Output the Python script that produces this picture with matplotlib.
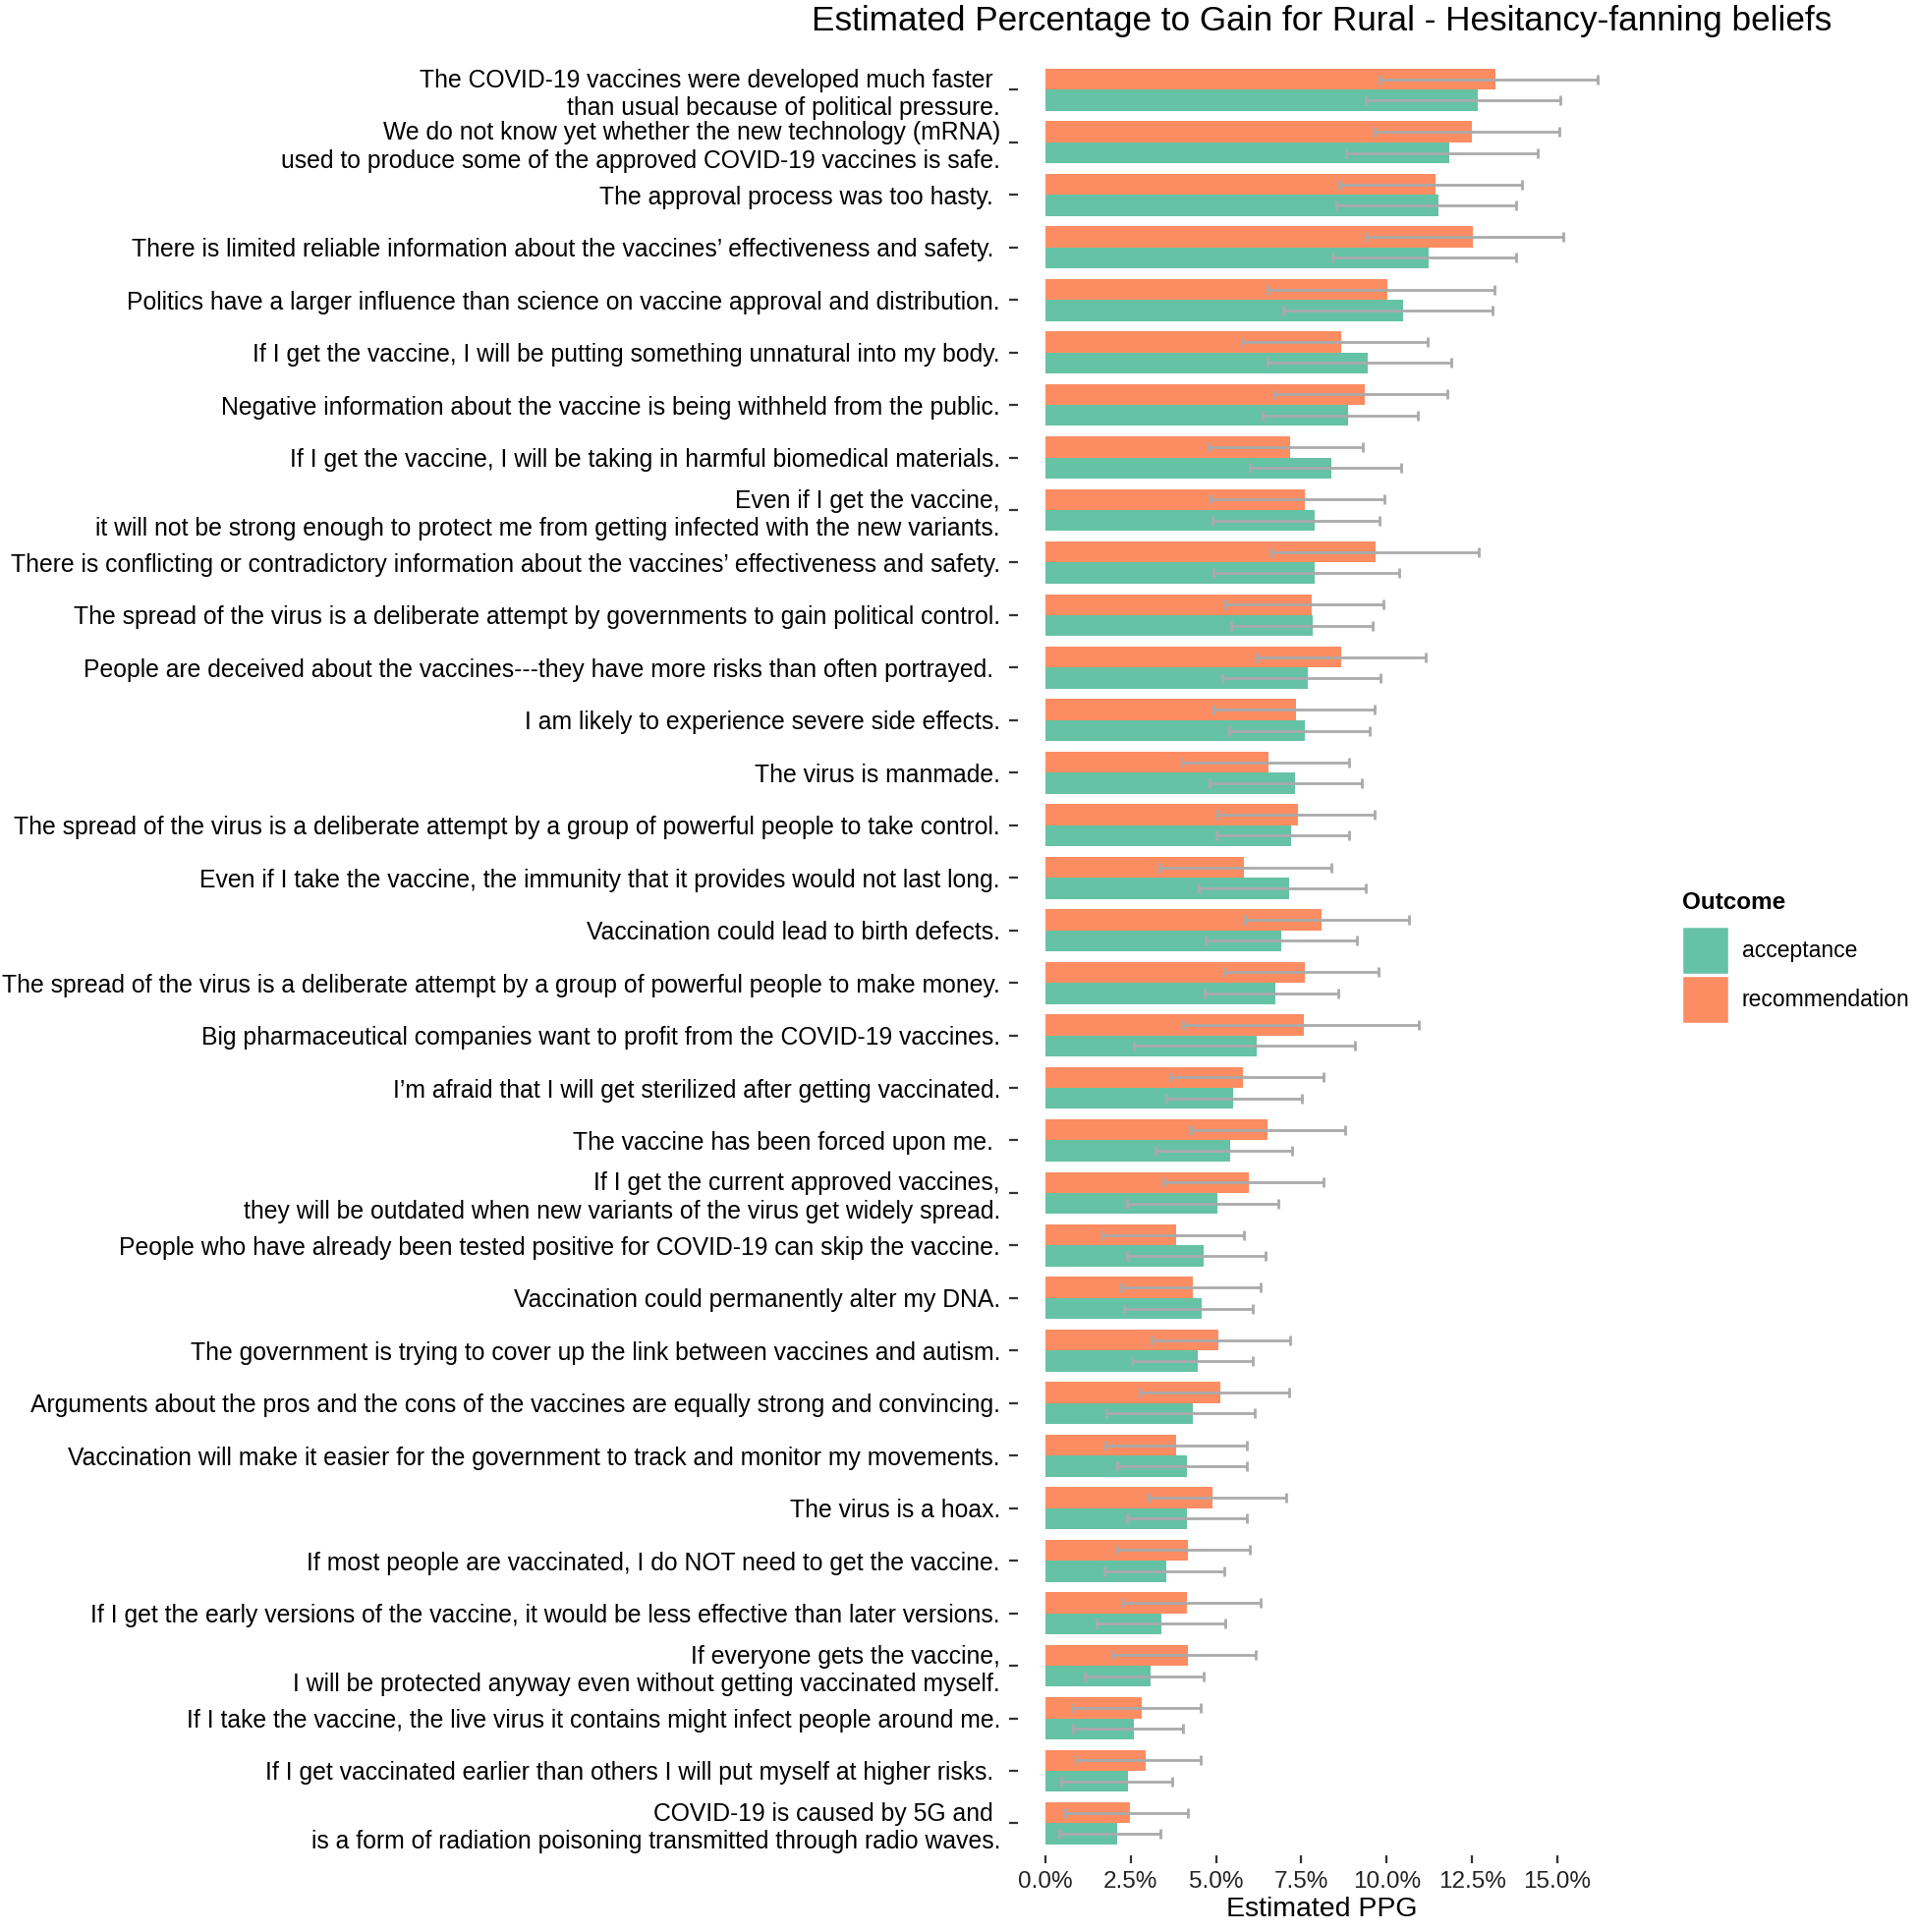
import matplotlib
matplotlib.use("Agg")
import matplotlib.pyplot as plt
from matplotlib.patches import Rectangle
import numpy as np

plt.rcParams['font.family'] = ['Liberation Sans', 'DejaVu Sans']

labels = [
    "The COVID-19 vaccines were developed much faster \nthan usual because of political pressure.",
    "We do not know yet whether the new technology (mRNA)\nused to produce some of the approved COVID-19 vaccines is safe.",
    "The approval process was too hasty. ",
    "There is limited reliable information about the vaccines\u2019 effectiveness and safety. ",
    "Politics have a larger influence than science on vaccine approval and distribution.",
    "If I get the vaccine, I will be putting something unnatural into my body.",
    "Negative information about the vaccine is being withheld from the public.",
    "If I get the vaccine, I will be taking in harmful biomedical materials.",
    "Even if I get the vaccine,\nit will not be strong enough to protect me from getting infected with the new variants.",
    "There is conflicting or contradictory information about the vaccines\u2019 effectiveness and safety.",
    "The spread of the virus is a deliberate attempt by governments to gain political control.",
    "People are deceived about the vaccines---they have more risks than often portrayed. ",
    "I am likely to experience severe side effects.",
    "The virus is manmade.",
    "The spread of the virus is a deliberate attempt by a group of powerful people to take control.",
    "Even if I take the vaccine, the immunity that it provides would not last long.",
    "Vaccination could lead to birth defects.",
    "The spread of the virus is a deliberate attempt by a group of powerful people to make money.",
    "Big pharmaceutical companies want to profit from the COVID-19 vaccines.",
    "I\u2019m afraid that I will get sterilized after getting vaccinated.",
    "The vaccine has been forced upon me. ",
    "If I get the current approved vaccines,\nthey will be outdated when new variants of the virus get widely spread.",
    "People who have already been tested positive for COVID-19 can skip the vaccine.",
    "Vaccination could permanently alter my DNA.",
    "The government is trying to cover up the link between vaccines and autism.",
    "Arguments about the pros and the cons of the vaccines are equally strong and convincing.",
    "Vaccination will make it easier for the government to track and monitor my movements.",
    "The virus is a hoax.",
    "If most people are vaccinated, I do NOT need to get the vaccine.",
    "If I get the early versions of the vaccine, it would be less effective than later versions.",
    "If everyone gets the vaccine,\nI will be protected anyway even without getting vaccinated myself.",
    "If I take the vaccine, the live virus it contains might infect people around me.",
    "If I get vaccinated earlier than others I will put myself at higher risks. ",
    "COVID-19 is caused by 5G and \nis a form of radiation poisoning transmitted through radio waves.",
]

acc = [12.67, 11.83, 11.53, 11.22, 10.47, 9.44, 8.88, 8.39, 7.90, 7.90, 7.82, 7.70,
       7.60, 7.32, 7.19, 7.15, 6.90, 6.75, 6.19, 5.50, 5.40, 5.03, 4.63, 4.57,
       4.45, 4.33, 4.15, 4.14, 3.55, 3.39, 3.09, 2.58, 2.43, 2.09]
acc_lo = [9.39, 8.82, 8.51, 8.40, 6.97, 6.52, 6.36, 6.00, 4.90, 4.93, 5.45, 5.17,
          5.38, 4.82, 5.00, 4.48, 4.69, 4.67, 2.58, 3.53, 3.22, 2.39, 2.40, 2.31,
          2.52, 1.80, 2.11, 2.39, 1.72, 1.50, 1.14, 0.80, 0.45, 0.40]
acc_hi = [15.09, 14.42, 13.78, 13.80, 13.10, 11.90, 10.90, 10.42, 9.80, 10.36, 9.59, 9.81,
          9.49, 9.28, 8.91, 9.39, 9.14, 8.57, 9.07, 7.51, 7.24, 6.83, 6.44, 6.07,
          6.07, 6.14, 5.90, 5.91, 5.24, 5.26, 4.65, 4.02, 3.72, 3.38]

rec = [13.19, 12.51, 11.43, 12.53, 10.03, 8.67, 9.35, 7.16, 7.60, 9.67, 7.81, 8.67,
       7.34, 6.53, 7.39, 5.81, 8.09, 7.60, 7.56, 5.80, 6.51, 5.97, 3.83, 4.31,
       5.06, 5.13, 3.83, 4.91, 4.19, 4.14, 4.19, 2.83, 2.95, 2.47]
rec_lo = [9.78, 9.65, 8.61, 9.40, 6.52, 5.77, 6.72, 4.78, 4.83, 6.63, 5.27, 6.18,
          4.92, 4.01, 5.03, 3.35, 5.84, 5.23, 4.03, 3.65, 4.26, 3.47, 1.68, 2.23,
          3.10, 2.76, 1.77, 3.01, 2.07, 2.24, 1.95, 0.77, 0.90, 0.58]
rec_hi = [16.17, 15.05, 13.98, 15.17, 13.16, 11.19, 11.77, 9.30, 9.94, 12.70, 9.91, 11.14,
          9.64, 8.89, 9.66, 8.39, 10.66, 9.75, 10.95, 8.14, 8.77, 8.15, 5.83, 6.30,
          7.16, 7.14, 5.89, 7.05, 5.98, 6.32, 6.17, 4.56, 4.56, 4.17]

xticks = [0.0, 2.5, 5.0, 7.5, 10.0, 12.5, 15.0]
xtick_labels = ["0.0%", "2.5%", "5.0%", "7.5%", "10.0%", "12.5%", "15.0%"]
outcomes = ["acceptance", "recommendation"]
colors = {"acceptance": "#66C2A5", "recommendation": "#FC8D62"}

W, H = 1950, 1966
fig = plt.figure(figsize=(W / 100, H / 100), dpi=100)
ax = fig.add_axes([1036 / W, 1 - 1887.5 / H, (1654 - 1036) / W, (1887.5 - 59.3) / H])

n = len(labels)
pos = np.arange(n)
bh = 0.4
ax.barh(pos - bh / 2, rec, height=bh, color=colors["recommendation"], edgecolor="none")
ax.barh(pos + bh / 2, acc, height=bh, color=colors["acceptance"], edgecolor="none")

rec_a = np.array(rec); acc_a = np.array(acc)
ax.errorbar(rec_a, pos - bh / 2,
            xerr=[rec_a - np.array(rec_lo), np.array(rec_hi) - rec_a],
            fmt="none", ecolor="#AAAAAA", elinewidth=2.0, capsize=3.8, capthick=2.0)
ax.errorbar(acc_a, pos + bh / 2,
            xerr=[acc_a - np.array(acc_lo), np.array(acc_hi) - acc_a],
            fmt="none", ecolor="#AAAAAA", elinewidth=2.0, capsize=3.8, capthick=2.0)

ax.set_xlim(-0.806, 16.99)
ax.set_ylim(n - 1 + 0.6, -0.6)
ax.set_yticks(pos)
ax.set_yticklabels(labels, fontsize=17.8, linespacing=1.22)
for t in ax.get_yticklabels():
    t.set_multialignment("right")
ax.set_xticks(xticks)
ax.set_xticklabels(xtick_labels, fontsize=17.5)
ax.set_xlabel("Estimated PPG", fontsize=20.5, labelpad=3)
ax.tick_params(axis="y", length=6.5, width=1.6, color="#333333", pad=6.5, labelcolor="black")
ax.tick_params(axis="x", length=6, width=1.6, color="#333333", pad=6, labelcolor="#222222")
for s in ax.spines.values():
    s.set_visible(False)

fig.text(1345 / W, 1 - 21 / H, "Estimated Percentage to Gain for Rural - Hesitancy-fanning beliefs",
         ha="center", va="center", fontsize=25.3)

# legend
fig.text(1712 / W, 1 - 918 / H, "Outcome", ha="left", va="center", fontsize=17.5, fontweight="bold")
key_y = [943, 993]
for name, ky in zip(outcomes, key_y):
    fig.patches.append(Rectangle((1712 / W, 1 - (ky + 48) / H), 47 / W, 48 / H,
                                 transform=fig.transFigure, facecolor=colors[name],
                                 edgecolor="white", linewidth=1))
    fig.text(1773 / W, 1 - (ky + 24) / H, name, ha="left", va="center", fontsize=16.5)

fig.savefig("out.png", dpi=100)
